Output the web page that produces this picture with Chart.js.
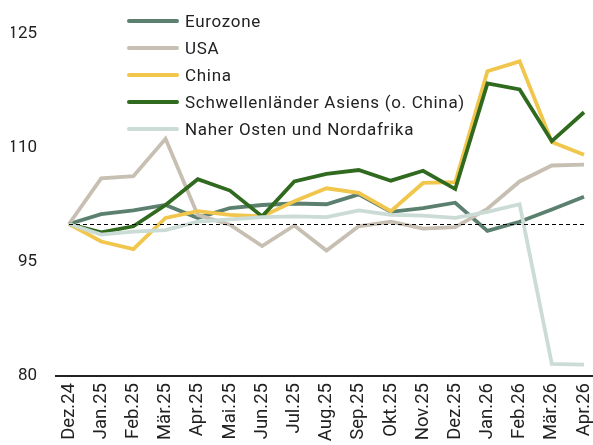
<!DOCTYPE html>
<html lang="de">
<head>
<meta charset="utf-8">
<title>Index</title>
<script src="https://cdn.jsdelivr.net/npm/chart.js@4.4.1/dist/chart.umd.min.js"></script>
<style>
  body { margin: 0; background: #fff; }
  #wrap { position: relative; width: 593px; height: 445px; }
  #legend { position: absolute; left: 127px; top: 7px; font-family: Roboto, sans-serif; font-size: 17px; letter-spacing: 0.7px; color: #222; }
  .row { display: flex; align-items: center; height: 27.2px; }
  .swatch { width: 52px; height: 4px; border-radius: 2px; margin-right: 6px; }
</style>
</head>
<body>
<div id="wrap">
  <canvas id="chart" width="593" height="445"></canvas>
  <div id="legend"></div>
</div>
<script>
const categories = [
  "Dez.24","Jan.25","Feb.25","Mär.25","Apr.25","Mai.25","Jun.25","Jul.25","Aug.25",
  "Sep.25","Okt.25","Nov.25","Dez.25","Jan.26","Feb.26","Mär.26","Apr.26"
];

const seriesNames = [
  "Eurozone",
  "USA",
  "China",
  "Schwellenländer Asiens (o. China)",
  "Naher Osten und Nordafrika"
];

const eurozone = [100, 101.3, 101.8, 102.5, 100.8, 102.1, 102.5, 102.7, 102.6, 103.9, 101.6, 102.1, 102.8, 99.1, 100.3, 101.9, 103.6];
const usa      = [100, 106.0, 106.3, 111.2, 101.2, 99.9, 97.1, 99.8, 96.5, 99.7, 100.3, 99.4, 99.6, 102.0, 105.6, 107.7, 107.8];
const china    = [100, 97.7, 96.7, 100.8, 101.7, 101.2, 101.0, 103.0, 104.7, 104.1, 101.7, 105.4, 105.5, 120.1, 121.4, 110.8, 109.1];
const asien    = [100, 98.9, 99.7, 102.5, 105.9, 104.4, 101.0, 105.6, 106.6, 107.1, 105.7, 107.0, 104.6, 118.5, 117.7, 110.9, 114.7];
const mena     = [100, 98.6, 99.0, 99.2, 100.3, 100.6, 100.9, 101.0, 100.9, 101.8, 101.2, 101.1, 100.8, 101.6, 102.6, 81.6, 81.5];

const yTicks = [80, 95, 110, 125];
const refValue = 100;

const colors = ["#5c8070", "#c6bfb2", "#f1c64c", "#306a1f", "#cbdbd5"];
const allSeries = [eurozone, usa, china, asien, mena];

// legend as html
const legendBox = document.getElementById("legend");
seriesNames.forEach((name, i) => {
  const row = document.createElement("div");
  row.className = "row";
  const sw = document.createElement("span");
  sw.className = "swatch";
  sw.style.background = colors[i];
  const txt = document.createElement("span");
  txt.textContent = name;
  row.appendChild(sw);
  row.appendChild(txt);
  legendBox.appendChild(row);
});

// dashed line at 100 and the extended x axis line
const extras = {
  id: "extras",
  afterDatasetsDraw(chart) {
    const { ctx, scales } = chart;
    const x = scales.x, y = scales.y;
    const yRef = Math.round(y.getPixelForValue(refValue)) + 0.5;
    ctx.save();
    ctx.strokeStyle = "#000";
    ctx.lineWidth = 1;
    ctx.setLineDash([4, 3]);
    ctx.beginPath();
    ctx.moveTo(x.getPixelForValue(0), yRef);
    ctx.lineTo(x.getPixelForValue(categories.length - 1), yRef);
    ctx.stroke();
    ctx.setLineDash([]);
    const yBase = y.getPixelForValue(yTicks[0]);
    ctx.strokeStyle = "#222";
    ctx.lineWidth = 2;
    ctx.beginPath();
    ctx.moveTo(chart.chartArea.left - 14, yBase);
    ctx.lineTo(chart.width, yBase);
    ctx.stroke();
    ctx.restore();
  }
};

new Chart(document.getElementById("chart"), {
  type: "line",
  data: {
    labels: categories,
    datasets: allSeries.map((data, i) => ({
      label: seriesNames[i],
      data: data,
      borderColor: colors[i],
      backgroundColor: colors[i],
      borderWidth: 3.8,
      pointRadius: 0,
      tension: 0,
      order: allSeries.length - i
    }))
  },
  options: {
    responsive: false,
    animation: false,
    devicePixelRatio: 1,
    layout: {
      padding: { top: 34, right: 9, left: 11, bottom: 0 }
    },
    plugins: {
      legend: { display: false },
      tooltip: { enabled: false }
    },
    scales: {
      x: {
        offset: false,
        grid: { display: false, drawTicks: false },
        border: { display: false },
        afterFit(scale) {
          scale.paddingLeft = 0;
          scale.paddingRight = 0;
          scale.height = 69;
        },
        ticks: {
          autoSkip: false,
          minRotation: 90,
          maxRotation: 90,
          padding: 7,
          color: "#222",
          font: { family: "Roboto", size: 18.5 }
        }
      },
      y: {
        min: 80,
        max: 125,
        grid: { display: false, drawTicks: false },
        border: { display: false },
        afterBuildTicks(axis) {
          axis.ticks = yTicks.map(v => ({ value: v }));
        },
        afterFit(scale) {
          scale.width = 58;
          scale.paddingTop = 0;
          scale.paddingBottom = 0;
        },
        ticks: {
          padding: 32,
          color: "#222",
          font: { family: "Roboto", size: 17 }
        }
      }
    }
  },
  plugins: [extras]
});
</script>
</body>
</html>
